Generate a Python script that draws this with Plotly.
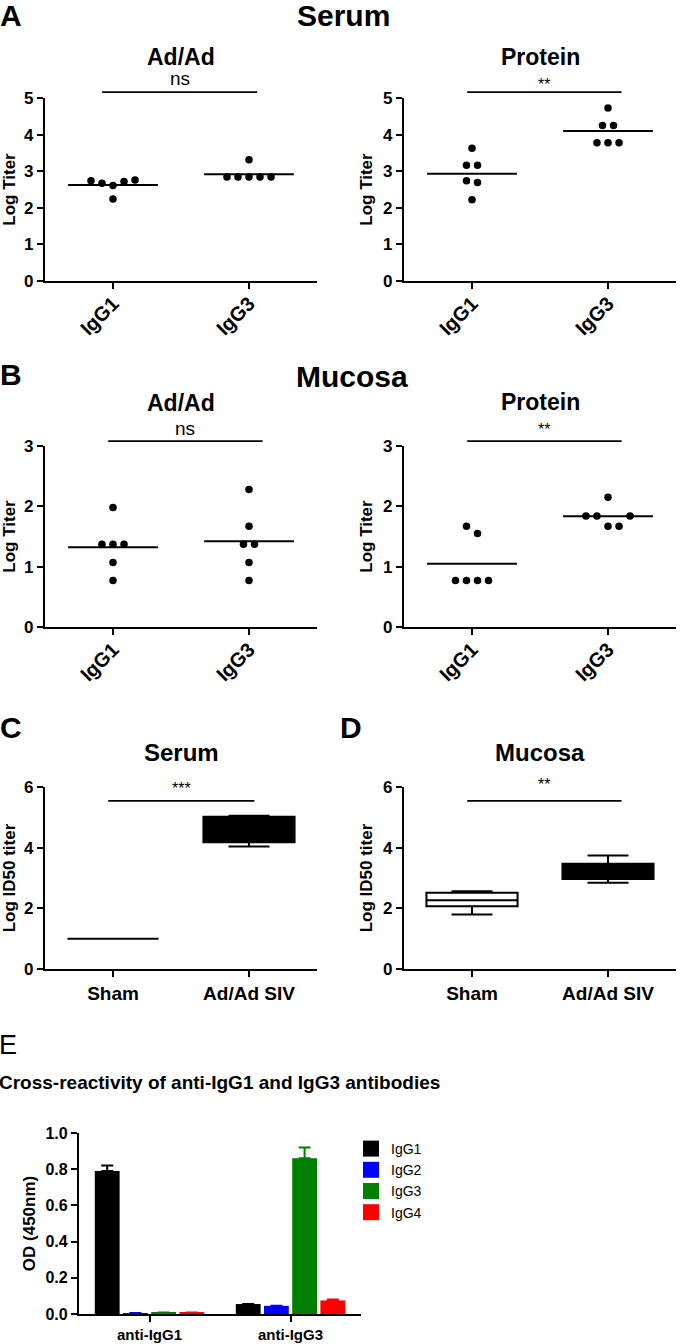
import plotly.graph_objects as go

W, H = 680, 1344
FONT = "Liberation Sans, Arial, sans-serif"

# ---------------- data ----------------
groups = ["IgG1", "IgG3"]

serum_adad_igg1 = [2.74, 2.67, 2.61, 2.72, 2.76, 2.24]
serum_adad_igg3 = [2.84, 2.84, 3.31, 2.84, 2.84, 2.84]
serum_prot_igg1 = [3.63, 3.16, 3.16, 2.74, 2.69, 2.22]
serum_prot_igg3 = [4.73, 4.25, 4.25, 3.78, 3.78, 3.78]

mucosa_adad_igg1 = [1.98, 1.37, 1.37, 1.37, 1.07, 0.77]
mucosa_adad_igg3 = [2.28, 1.67, 1.37, 1.37, 1.07, 0.77]
mucosa_prot_igg1 = [1.67, 1.55, 0.77, 0.77, 0.77, 0.77]
mucosa_prot_igg3 = [2.15, 1.84, 1.84, 1.67, 1.67, 1.84]

neut_groups = ["Sham", "Ad/Ad SIV"]
serum_q1 = [1.0, 4.18]
serum_median = [1.0, 4.85]
serum_q3 = [1.0, 5.02]
serum_low = [1.0, 4.04]
serum_high = [1.0, 5.05]

mucosa_q1 = [2.07, 2.97]
mucosa_median = [2.27, 3.25]
mucosa_q3 = [2.51, 3.47]
mucosa_low = [1.80, 2.84]
mucosa_high = [2.56, 3.74]

e_categories = ["anti-IgG1", "anti-IgG3"]
e_series = ["IgG1", "IgG2", "IgG3", "IgG4"]
od_igg1 = [0.79, 0.055]
od_igg2 = [0.005, 0.045]
od_igg3 = [0.008, 0.86]
od_igg4 = [0.008, 0.075]
err_igg1 = [0.03, 0.0]
err_igg2 = [0.0, 0.0]
err_igg3 = [0.0, 0.06]
err_igg4 = [0.0, 0.005]
e_colors = ["#000000", "#0000ff", "#007f00", "#ff0000"]

# ---------------- helpers ----------------
def px(x):
    return x / W


def py(y):
    return 1 - y / H


def bold(size, fam=FONT):
    return dict(family=fam, size=size, color="black", weight="bold")


def reg(size, fam=FONT):
    return dict(family=fam, size=size, color="black")


def swarm(vals, ppu, thr_px=11.5, step=0.081):
    order = sorted(range(len(vals)), key=lambda i: -vals[i])
    clusters = []
    for i in order:
        if clusters and abs(vals[clusters[-1][-1]] - vals[i]) * ppu < thr_px:
            clusters[-1].append(i)
        else:
            clusters.append([i])
    offs = [0.0] * len(vals)
    for c in clusters:
        c = sorted(c)
        n = len(c)
        for k, i in enumerate(c):
            offs[i] = (k - (n - 1) / 2) * step
    return offs


fig = go.Figure()
layout = {}
shapes = []
annotations = []

XR = (-0.5, 1.5)


def axes(i, xpix, ypix, yrange, ydtick, ytitle, ticktext, tickangle, tickfont,
         yfmt=None, ytickfont=None, ytitlefont=None, xrange=XR, standoff=0):
    xa = "xaxis" if i == 1 else f"xaxis{i}"
    ya = "yaxis" if i == 1 else f"yaxis{i}"
    xr = "x" if i == 1 else f"x{i}"
    yr = "y" if i == 1 else f"y{i}"
    common = dict(showgrid=False, zeroline=False, showline=True, linewidth=2.2,
                  linecolor="black", ticks="outside", ticklen=6, tickwidth=2.2,
                  tickcolor="black", automargin=False)
    layout[xa] = dict(domain=[px(xpix[0]), px(xpix[1])], anchor=yr, range=list(xrange),
                      tickmode="array", tickvals=list(range(len(ticktext))),
                      ticktext=ticktext, tickangle=tickangle, tickfont=tickfont,
                      ticklabelstandoff=standoff, fixedrange=True, **common)
    layout[ya] = dict(domain=[py(ypix[1]), py(ypix[0])], anchor=xr, range=list(yrange),
                      dtick=ydtick, tick0=0, tickfont=ytickfont or bold(17),
                      tickformat=yfmt,
                      title=dict(text=ytitle, font=ytitlefont or bold(17), standoff=6),
                      fixedrange=True, **common)
    return xr, yr


def sig(i, x0, x1, yv, yrange, text, text_py, xrange=XR, size=17):
    xd = "x domain" if i == 1 else f"x{i} domain"
    yd = "y domain" if i == 1 else f"y{i} domain"
    f0 = (x0 - xrange[0]) / (xrange[1] - xrange[0])
    f1 = (x1 - xrange[0]) / (xrange[1] - xrange[0])
    fy = (yv - yrange[0]) / (yrange[1] - yrange[0])
    shapes.append(dict(type="line", xref=xd, yref=yd, x0=f0, x1=f1, y0=fy, y1=fy,
                       line=dict(color="black", width=1.8)))
    annotations.append(dict(xref=xd, yref="paper", x=(f0 + f1) / 2, y=py(text_py),
                            text=text, showarrow=False, xanchor="center",
                            yanchor="middle", font=reg(size)))


def dot_panel(i, xpix, ypix, yrange, ytitle, g1, g3, subtitle, title_py, sig_text,
              sig_y, sig_text_py, sig_size, sig_x):
    xr, yr = axes(i, xpix, ypix, yrange, 1, ytitle, groups, -45, bold(20), standoff=-5)
    ppu = (ypix[1] - ypix[0]) / (yrange[1] - yrange[0])
    for pos, vals in enumerate([g1, g3]):
        offs = swarm(vals, ppu)
        fig.add_trace(go.Scatter(x=[pos + o for o in offs], y=vals, mode="markers",
                                 marker=dict(color="black", size=7.5, symbol="circle"),
                                 xaxis=xr, yaxis=yr, showlegend=False, cliponaxis=False))
        m = sum(vals) / len(vals)
        fig.add_trace(go.Scatter(x=[pos - 0.33, pos + 0.33], y=[m, m], mode="lines",
                                 line=dict(color="black", width=2), xaxis=xr, yaxis=yr,
                                 showlegend=False))
    d = "x domain" if i == 1 else f"x{i} domain"
    annotations.append(dict(xref=d, yref="paper", x=0.5, y=py(title_py), text=subtitle,
                            showarrow=False, xanchor="center", yanchor="middle",
                            font=bold(23)))
    sig(i, sig_x[0], sig_x[1], sig_y, yrange, sig_text, sig_text_py, size=sig_size)


# ---------- Panel A (Serum) ----------
dot_panel(1, (45, 317), (98, 281), (0, 5), "Log Titer", serum_adad_igg1, serum_adad_igg3,
          "Ad/Ad", 57, "ns", 5.16, 79, 19, (-0.08, 1.06))
dot_panel(2, (404, 676), (98, 281), (0, 5), "Log Titer", serum_prot_igg1, serum_prot_igg3,
          "Protein", 57, "**", 5.16, 84, 16, (-0.035, 1.1))

# ---------- Panel B (Mucosa) ----------
dot_panel(3, (45, 317), (446, 627), (0, 3), "Log Titer", mucosa_adad_igg1, mucosa_adad_igg3,
          "Ad/Ad", 403, "ns", 3.08, 428, 19, (-0.035, 1.1))
dot_panel(4, (404, 676), (446, 627), (0, 3), "Log Titer", mucosa_prot_igg1, mucosa_prot_igg3,
          "Protein", 402, "**", 3.08, 430, 16, (-0.035, 1.1))


# ---------- Panels C, D (box plots) ----------
def box_panel(i, xpix, q1, med, q3, lo, hi, fills, subtitle, sig_text, sig_text_py, sig_x):
    xr, yr = axes(i, xpix, (787, 969), (0, 6), 2, "Log ID50 titer", neut_groups, 0, bold(19))
    for pos in range(len(neut_groups)):
        fig.add_trace(go.Box(x=[pos], q1=[q1[pos]], median=[med[pos]], q3=[q3[pos]],
                             lowerfence=[lo[pos]], upperfence=[hi[pos]],
                             fillcolor=fills[pos], line=dict(color="black", width=2),
                             width=0.67, whiskerwidth=0.45, xaxis=xr, yaxis=yr,
                             showlegend=False, boxpoints=False, hoverinfo="skip"))
    d = "x domain" if i == 5 else f"x{i} domain"
    annotations.append(dict(xref=d, yref="paper", x=0.5, y=py(752), text=subtitle,
                            showarrow=False, xanchor="center", yanchor="middle",
                            font=bold(24)))
    sig(i, sig_x[0], sig_x[1], 5.54, (0, 6), sig_text, sig_text_py, size=16)


box_panel(5, (45, 317), serum_q1, serum_median, serum_q3, serum_low, serum_high,
          ["black", "black"], "Serum", "***", 788, (-0.035, 1.04))
box_panel(6, (404, 676), mucosa_q1, mucosa_median, mucosa_q3, mucosa_low, mucosa_high,
          ["white", "black"], "Mucosa", "**", 784, (-0.035, 1.1))

# ---------- Panel E (bars) ----------
xr, yr = axes(7, (79, 361), (1133, 1314), (0, 1.0), 0.2, "OD (450nm)", e_categories, 0,
              bold(15), yfmt=".1f", ytickfont=bold(16), ytitlefont=bold(17))
od_all = [od_igg1, od_igg2, od_igg3, od_igg4]
err_all = [err_igg1, err_igg2, err_igg3, err_igg4]
for name, vals, errs, col in zip(e_series, od_all, err_all, e_colors):
    fig.add_trace(go.Bar(x=list(range(len(e_categories))), y=vals, name=name,
                         marker=dict(color=col, line=dict(width=0)),
                         error_y=dict(type="data", symmetric=False, array=errs,
                                      arrayminus=[0] * len(errs), color=col,
                                      thickness=2, width=6),
                         xaxis=xr, yaxis=yr, showlegend=False))
# legend entries (square swatches)
for name, col in zip(e_series, e_colors):
    fig.add_trace(go.Scatter(x=[None], y=[None], mode="markers", name=name,
                             marker=dict(symbol="square", size=16, color=col),
                             xaxis=xr, yaxis=yr, showlegend=True))

# ---------- figure-level labels ----------
annotations += [
    dict(xref="paper", yref="paper", x=px(-2), y=py(16), text="A", showarrow=False,
         xanchor="left", yanchor="middle", font=bold(30)),
    dict(xref="paper", yref="paper", x=px(343), y=py(16), text="Serum", showarrow=False,
         xanchor="center", yanchor="middle", font=bold(30)),
    dict(xref="paper", yref="paper", x=px(-2), y=py(374), text="B", showarrow=False,
         xanchor="left", yanchor="middle", font=bold(30)),
    dict(xref="paper", yref="paper", x=px(352), y=py(376), text="Mucosa", showarrow=False,
         xanchor="center", yanchor="middle", font=bold(30)),
    dict(xref="paper", yref="paper", x=px(-2), y=py(727), text="C", showarrow=False,
         xanchor="left", yanchor="middle", font=bold(30)),
    dict(xref="paper", yref="paper", x=px(338), y=py(727), text="D", showarrow=False,
         xanchor="left", yanchor="middle", font=bold(30)),
    dict(xref="paper", yref="paper", x=px(-3), y=py(1045), text="E", showarrow=False,
         xanchor="left", yanchor="middle", font=reg(27)),
    dict(xref="paper", yref="paper", x=px(-3), y=py(1082),
         text="Cross-reactivity of anti-IgG1 and IgG3 antibodies", showarrow=False,
         xanchor="left", yanchor="middle", font=bold(19)),
]

fig.update_layout(
    width=W, height=H, margin=dict(l=0, r=0, t=0, b=0, autoexpand=False),
    paper_bgcolor="white", plot_bgcolor="white",
    barmode="group", bargap=0.2, bargroupgap=0.12,
    showlegend=True,
    legend=dict(x=px(351), y=py(1133), xanchor="left", yanchor="top",
                font=reg(14), bgcolor="rgba(0,0,0,0)", itemwidth=30,
                tracegroupgap=0, itemsizing="trace"),
    shapes=shapes, annotations=annotations,
    **layout,
)

fig.write_html("out.html", config={"displayModeBar": False},
               post_script="document.body.style.margin='0px';")
